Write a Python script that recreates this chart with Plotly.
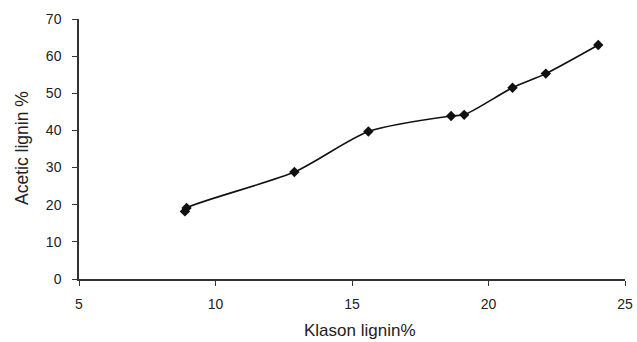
import plotly.graph_objects as go

klason = [8.88, 8.94, 12.89, 15.6, 18.63, 19.11, 20.88, 22.1, 24.02]
acetic = [18.2, 19.1, 28.8, 39.7, 43.9, 44.2, 51.5, 55.3, 63.0]

x_ticks = [5, 10, 15, 20, 25]
y_ticks = [0, 10, 20, 30, 40, 50, 60, 70]

fig = go.Figure()
fig.add_trace(go.Scatter(
    x=klason, y=acetic, mode="lines+markers",
    line=dict(color="#111111", width=1.6, shape="spline", smoothing=0.7),
    marker=dict(symbol="diamond", size=8, color="#111111"),
    showlegend=False,
))

fam = "Liberation Sans, Arial, sans-serif"
fig.update_layout(
    width=637, height=342,
    margin=dict(l=79, r=12, t=19, b=63),
    plot_bgcolor="white", paper_bgcolor="white",
    font=dict(family=fam, color="#222222", size=14),
    xaxis=dict(
        range=[5, 25], tickvals=x_ticks, showgrid=False, zeroline=False,
        showline=True, linecolor="#333333", linewidth=1.5,
        ticks="outside", ticklen=5, tickcolor="#333333", tickwidth=1,
        tickfont=dict(size=14), ticklabelstandoff=6, automargin=False,
    ),
    yaxis=dict(
        range=[0, 70], tickvals=y_ticks, showgrid=False, zeroline=False,
        showline=True, linecolor="#333333", linewidth=1.5,
        ticks="outside", ticklen=5, tickcolor="#333333", tickwidth=1,
        tickfont=dict(size=14), ticklabelstandoff=8, automargin=False,
    ),
    annotations=[
        dict(text="Klason lignin%", xref="paper", yref="paper",
             x=(360 - 79) / 546, y=(279 - 330) / 260, xanchor="center", yanchor="middle",
             showarrow=False, font=dict(size=17, family=fam, color="#222222")),
        dict(text="Acetic lignin %", xref="paper", yref="paper",
             x=(22 - 79) / 546, y=(279 - 148) / 260, xanchor="center", yanchor="middle",
             textangle=-90, showarrow=False,
             font=dict(size=17.5, family=fam, color="#222222")),
    ],
)
fig.write_html("out.html", config={"displayModeBar": False},
               post_script="document.body.style.margin='0';")
